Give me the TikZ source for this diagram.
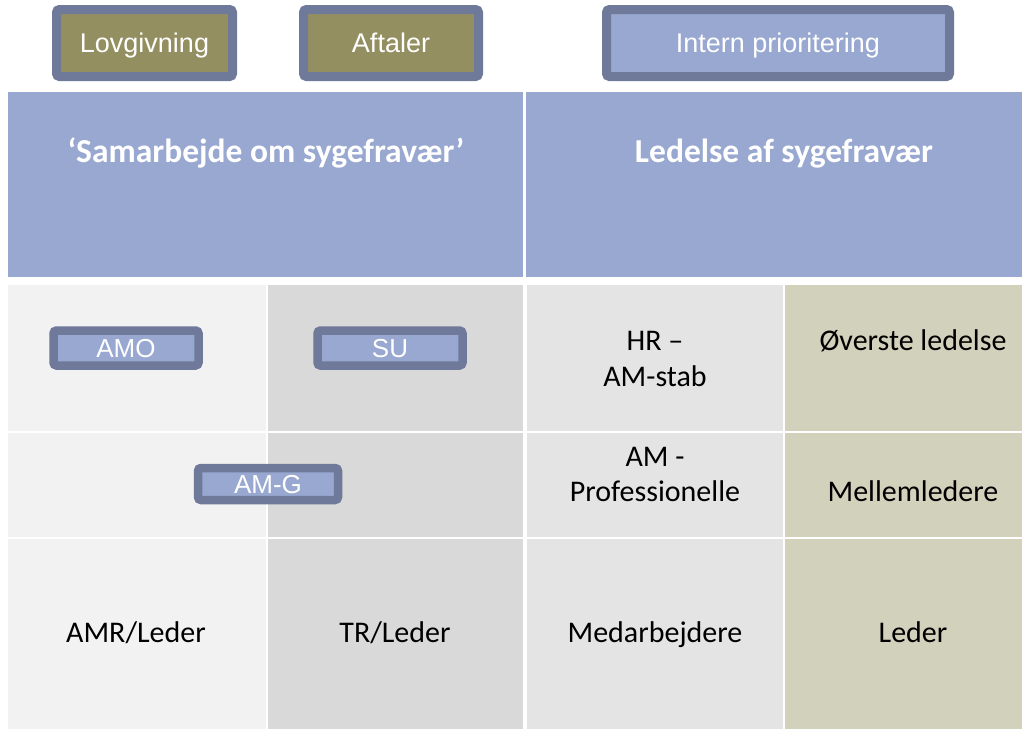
\documentclass[tikz,border=0pt]{standalone}
\usepackage{fontspec}
\setmainfont{Carlito}
\newfontfamily\arialfont{Liberation Sans}
\usetikzlibrary{positioning}
\definecolor{hdrblue}{RGB}{152,168,208}
\definecolor{btnedge}{RGB}{111,121,153}
\definecolor{olive}{RGB}{148,143,97}
\definecolor{colA}{RGB}{242,242,242}
\definecolor{colB}{RGB}{217,217,217}
\definecolor{colC}{RGB}{228,228,228}
\definecolor{colD}{RGB}{210,209,188}
\tikzset{cell/.style = {anchor = north west, inner sep = 0, outer sep = 0},
  btn/.style = {draw = btnedge, line width = 9, rounded corners = 3, inner sep = 0,
    text height = 19.4pt, text depth = 0pt,
    text = white, font = \arialfont\fontsize{27}{30}\selectfont},
  tag/.style = {draw = btnedge, line width = 8.5, rounded corners = 3, inner sep = 0,
    text height = 18.6pt, text depth = 0pt,
    fill = hdrblue, text = white, font = \arialfont\fontsize{26}{28}\selectfont},
  txt/.style = {anchor = base, align = center, inner sep = 0, font = \fontsize{30}{36}\selectfont},
  hdr/.style = {anchor = base, inner sep = 0, text = white, font = \bfseries\fontsize{33.5}{38}\selectfont}}

\begin{document}
\begin{tikzpicture}[x = 1pt, y = -1pt]

      \useasboundingbox (0, 0) rectangle (1022, 729);

      % header band
      \node [cell, fill = hdrblue, minimum width = 515, minimum height = 185] (hl) at (8, 92) {};
      \node [cell, fill = hdrblue, minimum width = 496, minimum height = 185] (hr) at (526, 92) {};
      \node [hdr] (samarb) at (266, 162) {‘Samarbejde om sygefravær’};
      \node [hdr] (ledelse) at (784, 162) {Ledelse af sygefravær};

      % grid
      \node [cell, fill = colA, minimum width = 258, minimum height = 146] (a1) at (8, 285) {};
      \node [cell, fill = colB, minimum width = 255, minimum height = 146] (b1) at (268, 285) {};
      \node [cell, fill = colC, minimum width = 256, minimum height = 146] (c1) at (527, 285) {};
      \node [cell, fill = colD, minimum width = 237, minimum height = 146] (d1) at (785, 285) {};
      \node [cell, fill = colA, minimum width = 258, minimum height = 104] (a2) at (8, 433) {};
      \node [cell, fill = colB, minimum width = 255, minimum height = 104] (b2) at (268, 433) {};
      \node [cell, fill = colC, minimum width = 256, minimum height = 104] (c2) at (527, 433) {};
      \node [cell, fill = colD, minimum width = 237, minimum height = 104] (d2) at (785, 433) {};
      \node [cell, fill = colA, minimum width = 258, minimum height = 190] (a3) at (8, 539) {};
      \node [cell, fill = colB, minimum width = 255, minimum height = 190] (b3) at (268, 539) {};
      \node [cell, fill = colC, minimum width = 256, minimum height = 190] (c3) at (527, 539) {};
      \node [cell, fill = colD, minimum width = 237, minimum height = 190] (d3) at (785, 539) {};

      \node [txt] (hrline) at (655, 350) {HR –};
      \node [txt] (amstab) at (655, 386) {AM-stab};
      \node [txt] (overste) at (913, 350) {Øverste ledelse};
      \node [txt] (amline) at (655, 466) {AM -};
      \node [txt] (prof) at (655, 501) {Professionelle};
      \node [txt] (mellem) at (913, 501) {Mellemledere};
      \node [txt] (amr) at (136, 642) {AMR/Leder};
      \node [txt] (tr) at (395, 642) {TR/Leder};
      \node [txt] (medarb) at (655, 642) {Medarbejdere};
      \node [txt] (leder) at (913, 642) {Leder};

      % top buttons
      \node [btn, fill = olive, minimum width = 176, minimum height = 67] (lov) at (144.5, 43) {Lovgivning};
      \node [btn, fill = olive, minimum width = 175, minimum height = 67] (aft) at (391, 43) {Aftaler};
      \node [btn, fill = hdrblue, minimum width = 343, minimum height = 67] (intern) at (778, 43) {Intern prioritering};

      % bodies
      \node [tag, minimum width = 145, minimum height = 35] (amo) at (126, 348) {AMO};
      \node [tag, minimum width = 145, minimum height = 35] (su) at (390, 348) {SU};
      \node [tag, minimum width = 140, minimum height = 32] (amg) at (268, 484) {AM-G};
    \end{tikzpicture}
\end{document}
